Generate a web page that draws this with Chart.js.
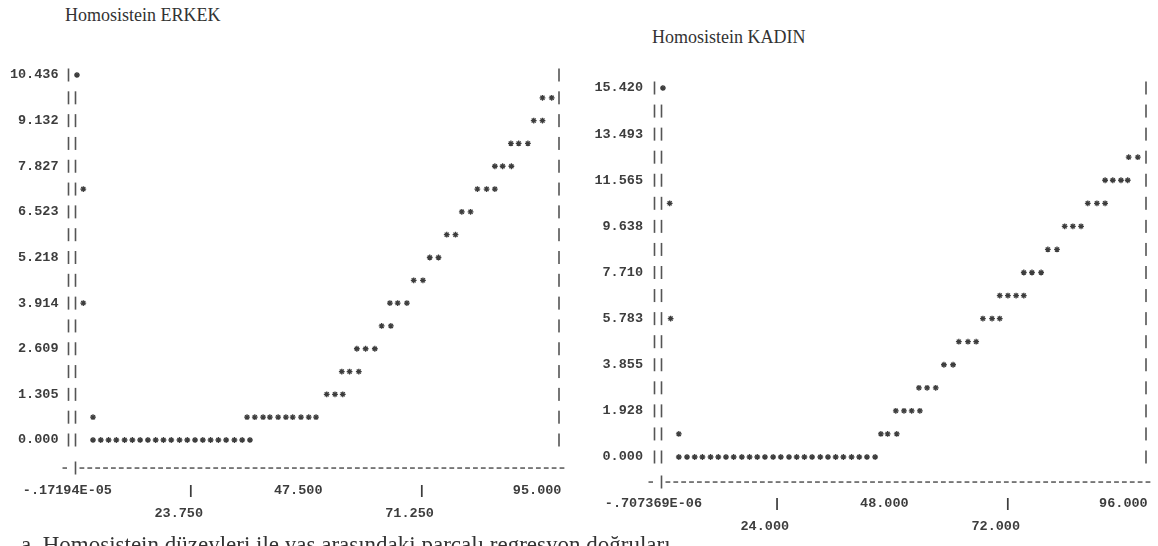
<!DOCTYPE html>
<html><head><meta charset="utf-8">
<script src="https://cdn.jsdelivr.net/npm/chart.js@4.4.1/dist/chart.umd.min.js"></script>
<style>
html,body{margin:0;padding:0;background:#fff;width:1158px;height:546px;overflow:hidden;position:relative}
.t{position:absolute;font-family:'Liberation Serif','Times New Roman',serif;color:#333;white-space:nowrap;line-height:20px}
.c{position:absolute;top:0;width:579px;height:546px}
</style></head><body>
<div class="t" style="left:65px;top:5px;font-size:18px">Homosistein ERKEK</div>
<div class="t" style="left:652px;top:27px;font-size:18px">Homosistein KADIN</div>
<div class="c" style="left:0"><canvas id="c1" width="579" height="546"></canvas></div>
<div class="c" style="left:579px"><canvas id="c2" width="579" height="546"></canvas></div>
<div class="t" style="left:21px;top:532px;font-size:23px;line-height:26px">a. Homosistein düzeyleri ile yaş arasındaki parçalı regresyon doğruları</div>
<script>
// ---- ERKEK (men) ----
const erkekAge = [0.3,
 96.1,98.0, 94.3,96.1, 89.6,91.2,93.1, 86.3,87.9,89.7,
 1.6,82.7,84.6,86.3, 79.5,81.3, 76.4,78.2, 72.9,74.7, 69.6,71.5,
 1.6,64.7,66.3,68.2, 63.0,64.9, 57.9,59.7,61.6, 54.8,56.4,58.3, 51.7,53.4,55.0,
 3.6,35.3,36.9,38.6,40.0,41.7,43.3,44.7,46.4,48.0,49.5,
 3.6,5.2,6.8,8.4,10.1,11.7,13.3,14.9,16.5,18.1,19.7,21.4,23.0,24.6,26.2,27.8,29.4,31.0,32.7,34.3,35.9];
const erkekHcy = [10.436,
 9.784,9.784, 9.132,9.132, 8.479,8.479,8.479, 7.827,7.827,7.827,
 7.175,7.175,7.175,7.175, 6.523,6.523, 5.871,5.871, 5.218,5.218, 4.566,4.566,
 3.914,3.914,3.914,3.914, 3.261,3.261, 2.609,2.609,2.609, 1.957,1.957,1.957, 1.305,1.305,1.305,
 0.652,0.652,0.652,0.652,0.652,0.652,0.652,0.652,0.652,0.652,0.652,
 0,0,0,0,0,0,0,0,0,0,0,0,0,0,0,0,0,0,0,0,0];
const erkekYTicks = ['0.000','1.305','2.609','3.914','5.218','6.523','7.827','9.132','10.436'];
const erkekXTicks = ['-.17194E-05','23.750','47.500','71.250','95.000'];

// ---- KADIN (women) ----
const kadinAge = [0.3,
 97.1,99.0, 92.2,93.8,95.5,96.9, 1.7,88.6,90.5,92.2, 83.8,85.5,87.2, 80.3,82.2,
 75.3,77.0,78.9, 70.3,72.0,73.7,75.3, 1.9,66.8,68.7,70.3, 61.8,63.7,65.4, 58.7,60.6,
 53.5,55.2,57.0, 48.7,50.4,52.0,53.7, 3.6,45.6,47.0,48.9,
 3.6,5.3,6.9,8.5,10.2,11.8,13.4,15.0,16.7,18.3,19.9,21.5,23.2,24.8,26.5,28.1,29.7,31.3,33.0,34.6,36.2,37.8,39.5,41.1,42.7,44.4];
const kadinHcy = [15.420,
 12.529,12.529, 11.565,11.565,11.565,11.565, 10.601,10.601,10.601,10.601, 9.638,9.638,9.638, 8.674,8.674,
 7.710,7.710,7.710, 6.746,6.746,6.746,6.746, 5.783,5.783,5.783,5.783, 4.819,4.819,4.819, 3.855,3.855,
 2.891,2.891,2.891, 1.928,1.928,1.928,1.928, 0.964,0.964,0.964,0.964,
 0,0,0,0,0,0,0,0,0,0,0,0,0,0,0,0,0,0,0,0,0,0,0,0,0,0];
const kadinYTicks = ['0.000','1.928','3.855','5.783','7.710','9.638','11.565','13.493','15.420'];
const kadinXTicks = ['-.707369E-06','24.000','48.000','72.000','96.000'];

const INK = '#3d3d3d';
const MONO = "'Liberation Mono','DejaVu Sans Mono',monospace";

const asciiFrame = {
  id: 'asciiFrame',
  beforeDatasetsDraw(chart, args, o) {
    const {ctx, chartArea: a, scales: {x, y}} = chart;
    const rows = o.rows, yMax = y.max, step = yMax / rows;
    const pts = chart.data.datasets[0].data;
    const busy = new Set(pts.filter(p => p.x < 1).map(p => Math.round((yMax - p.y) / step)));
    const x0 = x.getPixelForValue(0);
    ctx.save();
    ctx.fillStyle = '#555';
    for (let r = 0; r <= rows; r++) {
      const py = y.getPixelForValue(yMax - r * step);
      ctx.fillRect(x0 - 7.8, py - 6.5, 1.6, 13);
      if (!(busy.has(r) && r === 0)) ctx.fillRect(x0 - 0.8, py - 6.5, 1.6, 13);
      ctx.fillRect(a.right - 0.8, py - 6.5, 1.6, 13);
    }
    const by = a.bottom + o.dashY;
    ctx.fillRect(x0 - 13, by - 0.7, 4.5, 1.5);
    ctx.fillRect(x0 - 0.8, by - 6.5, 1.6, 13);
    for (let px = x0 + 4; px < a.right + 3; px += 7.87) ctx.fillRect(px, by - 0.7, 4.8, 1.5);
    ctx.restore();
  }
};

function noPad(s) { s.paddingLeft = 0; s.paddingRight = 0; s.paddingTop = 0; s.paddingBottom = 0; }

function build(id, ages, hcy, yLabels, xLabels, g) {
  const xVals = xLabels.map(s => parseFloat(s));
  const yVals = yLabels.map(s => parseFloat(s));
  const font = {family: MONO, size: 13.5, weight: 'bold', lineHeight: '23px'};
  return new Chart(document.getElementById(id), {
    type: 'scatter',
    data: {datasets: [{
      data: ages.map((a, i) => ({x: a, y: hcy[i]})),
      clip: false,
      pointStyle: 'star', radius: 2.9, hoverRadius: 2.9, borderWidth: 1.3,
      borderColor: INK, backgroundColor: INK
    }]},
    options: {
      responsive: false, animation: false, events: [],
      layout: {padding: {left: 0, top: g.top, right: g.right, bottom: g.padBottom}},
      plugins: {legend: {display: false}, tooltip: {enabled: false}, asciiFrame: {rows: 16, dashY: g.dashY}},
      scales: {
        x: {
          type: 'linear', min: xVals[0], max: g.xMax,
          afterBuildTicks: s => { s.ticks = xVals.map(v => ({value: v})); },
          afterFit: s => { s.height = g.xAxisH; noPad(s); },
          grid: {display: false, drawTicks: false}, border: {display: false},
          ticks: {
            autoSkip: false, maxRotation: 0, minRotation: 0, padding: g.xPad, color: INK, font,
            callback: (v, i) => i % 2 ? ['|', xLabels[i] + '   '] : (i === xLabels.length - 1 ? xLabels[i] : xLabels[i] + '  ')
          }
        },
        y: {
          type: 'linear', min: 0, max: yVals[yVals.length - 1],
          afterBuildTicks: s => { s.ticks = yVals.map(v => ({value: v})); },
          afterFit: s => { s.width = g.yAxisW; noPad(s); },
          grid: {display: false, drawTicks: false}, border: {display: false},
          ticks: {padding: g.yPad, color: INK, font, callback: (v, i) => yLabels[i]}
        }
      }
    },
    plugins: [asciiFrame]
  });
}

build('c1', erkekAge, erkekHcy, erkekYTicks, erkekXTicks,
  {top: 75, right: 20, padBottom: 16, xAxisH: 90, xMax: 99.5, yAxisW: 75.5, xPad: 39.5, yPad: 17, dashY: 28});
build('c2', kadinAge, kadinHcy, kadinYTicks, kadinXTicks,
  {top: 88, right: 12, padBottom: 14, xAxisH: 75, xMax: 100.7, yAxisW: 82.5, xPad: 35.5, yPad: 18.5, dashY: 25});
</script>
</body></html>
